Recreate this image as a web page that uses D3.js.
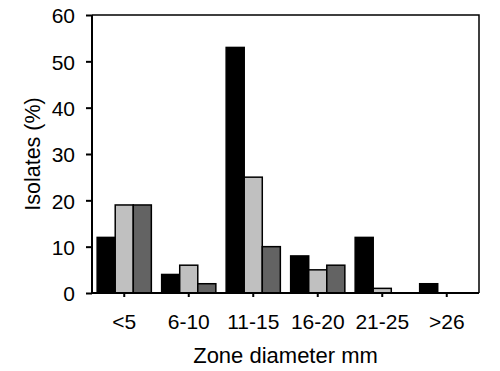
<!DOCTYPE html>
<html>
<head>
<meta charset="utf-8">
<script src="https://cdn.jsdelivr.net/npm/d3@7"></script>
<style>
  body { margin: 0; background: #fff; }
  svg text { font-family: "Liberation Sans", Arial, sans-serif; fill: #000; }
</style>
</head>
<body>
<svg id="chart" width="500" height="371"></svg>
<script>
// zone diameter groups
var categories = ["<5", "6-10", "11-15", "16-20", "21-25", ">26"]
var seriesA = [12, 4, 53, 8, 12, 2]   // black
var seriesB = [19, 6, 25, 5, 1, 0]    // light gray
var seriesC = [19, 2, 10, 6, 0, 0]    // dark gray
var yTicks = [0, 10, 20, 30, 40, 50, 60]

var series = [
  { values: seriesA, fill: "#000000" },
  { values: seriesB, fill: "#c0c0c0" },
  { values: seriesC, fill: "#636363" }
]

var svg = d3.select("#chart")
var mLeft = 92, mRight = 479, mTop = 15, mBottom = 293

var x = d3.scaleBand().domain(categories).range([mLeft, mRight]).paddingInner(0.16).paddingOuter(0.08)
var xs = d3.scaleBand().domain(d3.range(series.length)).range([0, x.bandwidth()])
var y = d3.scaleLinear().domain([0, 60]).range([mBottom, mTop])

// bars (zero values are not drawn)
series.forEach(function(s, i) {
  var rows = s.values.map(function(v, j) { return { cat: categories[j], v: v } })
    .filter(function(d) { return d.v > 0 })
  svg.append("g").selectAll("rect")
    .data(rows)
    .enter()
    .append("rect")
    .attr("x", function(d) { return x(d.cat) + xs(i) })
    .attr("y", function(d) { return y(d.v) })
    .attr("width", xs.bandwidth())
    .attr("height", function(d) { return mBottom - y(d.v) })
    .attr("fill", s.fill)
    .attr("stroke", "#000")
    .attr("stroke-width", 1.5)
})

// frame: top and right lines
svg.append("path")
  .attr("d", "M" + mLeft + "," + mTop + "H" + mRight + "V" + mBottom)
  .attr("fill", "none").attr("stroke", "#000").attr("stroke-width", 1.5)

// y axis
var yAxis = svg.append("g")
  .attr("transform", "translate(" + mLeft + ",0)")
  .call(d3.axisLeft(y).tickValues(yTicks).tickSize(6).tickPadding(11))
yAxis.select(".domain").attr("stroke-width", 2).attr("d", "M0," + mTop + "V" + mBottom)
yAxis.selectAll(".tick line").attr("stroke-width", 2)
yAxis.selectAll("text").attr("font-size", 21).attr("dy", "0.37em").attr("font-family", "Liberation Sans, Arial, sans-serif")

// x axis
var xAxis = svg.append("g")
  .attr("transform", "translate(0," + mBottom + ")")
  .call(d3.axisBottom(x).tickSize(4).tickPadding(17))
xAxis.select(".domain").attr("stroke-width", 2).attr("d", "M" + mLeft + ",0H" + mRight)
xAxis.selectAll(".tick line").attr("stroke-width", 2)
xAxis.selectAll("text").attr("font-size", 21).attr("font-family", "Liberation Sans, Arial, sans-serif")

// titles
svg.append("text")
  .attr("x", (mLeft + mRight) / 2)
  .attr("y", 363)
  .attr("text-anchor", "middle")
  .attr("font-size", 22)
  .text("Zone diameter mm")

svg.append("text")
  .attr("transform", "translate(40," + (mTop + mBottom) / 2 + ") rotate(-90)")
  .attr("text-anchor", "middle")
  .attr("font-size", 21.5)
  .text("Isolates (%)")
</script>
</body>
</html>
